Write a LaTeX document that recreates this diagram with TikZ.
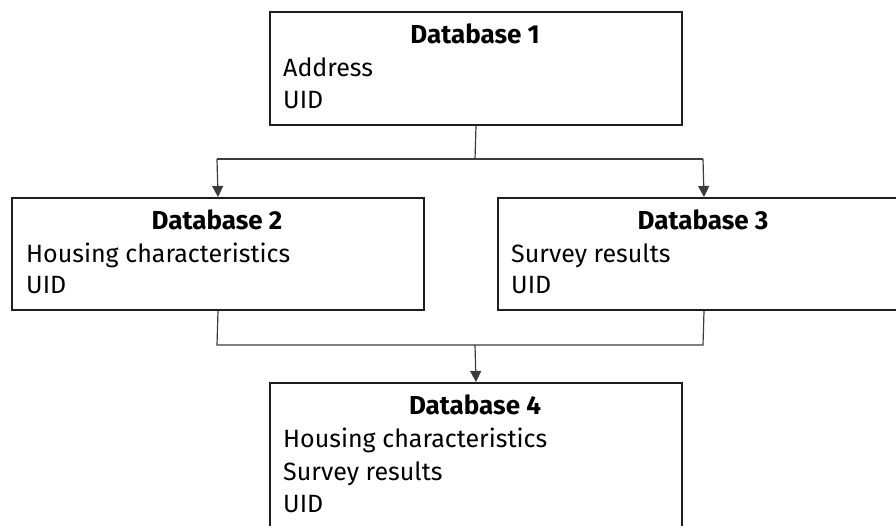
\documentclass[tikz,border=0pt]{standalone}
\usepackage{fontspec}
\setmainfont{Fira Sans}
\usetikzlibrary{arrows.meta}
\definecolor{inkline}{HTML}{1E1E1E}
\definecolor{wire}{HTML}{3C3C3C}
\begin{document}
\begin{tikzpicture}[x=1pt,y=-1pt,
  dbbox/.style={draw=inkline,line width=2pt,anchor=north west,inner sep=0pt},
  title/.style={anchor=base,inner sep=0pt,font=\fontsize{26}{30}\selectfont\bfseries,text=black},
  entry/.style={anchor=base west,inner sep=0pt,font=\fontsize{25}{30}\selectfont,text=black},
  wireline/.style={draw=wire,line width=1.2pt},
  feed/.style={wireline,-{Triangle[length=11pt,width=11pt]}}]
\useasboundingbox (0,0) rectangle (896,525);
\clip (0,0) rectangle (896,525);

% database boxes
\node[dbbox,minimum width=412pt,minimum height=113pt] (db1) at (269,11) {};
\node[dbbox,minimum width=412pt,minimum height=112pt] (db2) at (11,197) {};
\node[dbbox,minimum width=412pt,minimum height=112pt] (db3) at (497,197) {};
\node[dbbox,minimum width=412pt,minimum height=146pt] (db4) at (269,382) {};

% box contents
\node[title] (t1) at (475,43) {Database 1};
\node[entry] (a1) at (283,76) {Address};
\node[entry] (b1) at (283,108) {UID};

\node[title] (t2) at (217,229) {Database 2};
\node[entry] (a2) at (26,262) {Housing characteristics};
\node[entry] (b2) at (26,293) {UID};

\node[title] (t3) at (703,229) {Database 3};
\node[entry] (a3) at (511,262) {Survey results};
\node[entry] (b3) at (511,293) {UID};

\node[title] (t4) at (475,414) {Database 4};
\node[entry] (a4) at (283,447) {Housing characteristics};
\node[entry] (b4) at (283,480) {Survey results};
\node[entry] (c4) at (283,512) {UID};

% split from database 1
\coordinate (split) at (475,159);
\coordinate (splitL) at (217,159);
\coordinate (splitR) at (703,159);
\draw[wireline] (db1.south) -- (split);
\draw[wireline] (splitL) -- (splitR);
\draw[feed] (splitL) -- (db2.north);
\draw[feed] (splitR) -- (db3.north);

% merge into database 4
\coordinate (mergeL) at (217,345);
\coordinate (mergeR) at (703,345);
\coordinate (merge) at (475,345);
\draw[wireline] (db2.south) -- (mergeL) -- (mergeR) -- (db3.south);
\draw[feed] (merge) -- (db4.north);
\end{tikzpicture}
\end{document}
